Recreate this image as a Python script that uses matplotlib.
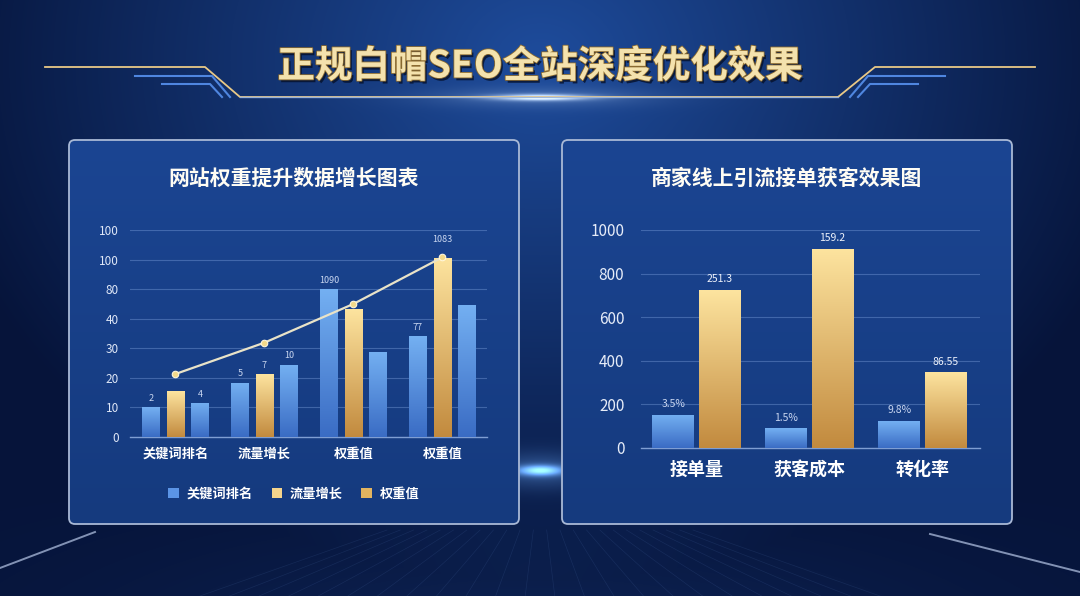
import numpy as np
import matplotlib
matplotlib.use("Agg")
import matplotlib.pyplot as plt
from matplotlib.colors import LinearSegmentedColormap
from matplotlib.patches import FancyBboxPatch, Patch
import matplotlib.patheffects as pe

plt.rcParams['font.family'] = ['Noto Sans CJK SC', 'DejaVu Sans']

# ---------------- data ----------------
main_title = "正规白帽SEO全站深度优化效果"

left_title = "网站权重提升数据增长图表"
left_categories = ["关键词排名", "流量增长", "权重值", "权重值"]
left_ytick_labels = ["0", "10", "20", "30", "40", "80", "100", "100"]
left_blue_a = [10.0, 18.4, 50.0, 34.1]
left_gold = [15.5, 21.2, 43.2, 60.6]
left_blue_b = [11.5, 24.4, 28.9, 44.8]
left_line = [21.3, 31.9, 45.0, 60.8]
left_labels_blue_a = ["2", "5", "1090", "77"]
left_labels_gold = ["", "7", "", "1083"]
left_labels_blue_b = ["4", "10", "", ""]
legend_names = ["关键词排名", "流量增长", "权重值"]

right_title = "商家线上引流接单获客效果图"
right_categories = ["接单量", "获客成本", "转化率"]
right_blue = [152, 89, 123]
right_gold = [725, 915, 346]
right_labels_blue = ["3.5%", "1.5%", "9.8%"]
right_labels_gold = ["251.3", "159.2", "86.55"]

W, H = 1080, 596
fig = plt.figure(figsize=(W / 100, H / 100), dpi=100)

# ---------------- background ----------------
bg = fig.add_axes([0, 0, 1, 1])
bg.set_xlim(0, W)
bg.set_ylim(H, 0)
bg.axis('off')
yy, xx = np.mgrid[0:H, 0:W]
d = np.sqrt(((xx - 540) / 620.0) ** 2 + ((yy - 60) / 520.0) ** 2)
d = np.clip(d, 0, 1)
c_center = np.array([0x1e, 0x4c, 0x9c]) / 255
c_edge = np.array([0x06, 0x14, 0x3a]) / 255
img = c_center[None, None, :] * (1 - d[..., None]) + c_edge[None, None, :] * d[..., None]
floor = np.exp(-((xx - 540) / 420.0) ** 2) * np.clip((yy - 480) / 120.0, 0, 1) * 0.08
img = img + floor[..., None] * np.array([0.3, 0.6, 1.0])
# central glow streak between panels
glow = np.exp(-((xx - 540) / 22.0) ** 2 - ((yy - 470) / 5.0) ** 2) * 0.9 \
    + np.exp(-((xx - 540) / 60.0) ** 2 - ((yy - 470) / 18.0) ** 2) * 0.25
img = img + glow[..., None] * np.array([0.55, 0.8, 1.0])
# glow under title
tglow = np.exp(-((xx - 540) / 45.0) ** 2 - ((yy - 97) / 3.0) ** 2) * 0.8 \
    + np.exp(-((xx - 540) / 110.0) ** 2 - ((yy - 97) / 10.0) ** 2) * 0.15
img = img + tglow[..., None] * np.array([1.0, 0.9, 0.65])
img = np.clip(img, 0, 1)
bg.imshow(img, extent=(0, W, H, 0), aspect='auto', zorder=0)

# floor decoration lines
bg.plot([0, 95], [568, 532], color='#b8c8e8', lw=1.4, alpha=0.7, zorder=1)
bg.plot([1080, 930], [572, 534], color='#b8c8e8', lw=1.4, alpha=0.7, zorder=1)
for xb in np.linspace(200, 880, 24):
    bg.plot([540 + (xb - 540) * 0.45, xb], [530, 596], color='#6f9ae0', lw=0.5, alpha=0.12, zorder=1)

# title decoration
gold = '#e9c987'
bg.plot([45, 205, 240, 838, 875, 1035], [67, 67, 97, 97, 67, 67], color=gold, lw=1.3, zorder=2)
bg.plot([240, 838], [97, 97], color='#8fb3ee', lw=1.0, zorder=2, alpha=0.8)
bg.plot([135, 212, 230], [76, 76, 97], color='#4f86e0', lw=1.5, zorder=2)
bg.plot([162, 210, 222], [84, 84, 97], color='#4f86e0', lw=1.5, zorder=2)
bg.plot([945, 868, 850], [76, 76, 97], color='#4f86e0', lw=1.5, zorder=2)
bg.plot([918, 870, 858], [84, 84, 97], color='#4f86e0', lw=1.5, zorder=2)

bg.text(540, 66, main_title, ha='center', va='center', fontsize=27, fontweight='bold',
        color='#f4e2ad', zorder=3,
        path_effects=[pe.withSimplePatchShadow(offset=(1.5, -2), shadow_rgbFace='#05102a', alpha=0.8),
                      pe.withStroke(linewidth=1.2, foreground='#8a6a30')])

# panels
for (x0, x1, title) in [(69, 519, left_title), (562, 1012, right_title)]:
    yt, yb = 140, 524
    grad = np.linspace(0, 1, 200).reshape(-1, 1)
    pcm = LinearSegmentedColormap.from_list('p', ['#1b4592', '#153a7e'])
    im = bg.imshow(grad, extent=(x0, x1, yb, yt), cmap=pcm, aspect='auto', zorder=2)
    box = FancyBboxPatch((x0, yt), x1 - x0, yb - yt, boxstyle="round,pad=0,rounding_size=6",
                         facecolor='none', edgecolor='#a9b9d6', lw=1.3, zorder=3)
    bg.add_patch(box)
    im.set_clip_path(box)
    bg.text((x0 + x1) / 2, 178, title, ha='center', va='center', fontsize=15, fontweight='bold',
            color='#fffdf4', zorder=4)


def px_axes(x0, x1, ytop, ybot):
    return fig.add_axes([x0 / W, (H - ybot) / H, (x1 - x0) / W, (ybot - ytop) / H])


blue_top, blue_bot = '#74b0f2', '#3a6cc4'
gold_top, gold_bot = '#fde49f', '#c28a3e'


def grad_bars(ax, xs, hs, w, ctop, cbot):
    bars = ax.bar(xs, hs, width=w, color=cbot, zorder=3, lw=0)
    cmap = LinearSegmentedColormap.from_list('g', [cbot, ctop])
    g = np.linspace(0, 1, 256).reshape(-1, 1)
    for b in bars:
        x0 = b.get_x()
        h = b.get_height()
        im = ax.imshow(g, extent=(x0, x0 + b.get_width(), 0, h), origin='lower', cmap=cmap,
                       aspect='auto', zorder=3.5)
        im.set_clip_path(b)
    return bars


def style_axes(ax, grid_color):
    ax.set_facecolor('none')
    for s in ['top', 'right', 'left']:
        ax.spines[s].set_visible(False)
    ax.spines['bottom'].set_color('#7f9ed3')
    ax.spines['bottom'].set_linewidth(1.0)
    ax.yaxis.grid(True, color=grid_color, lw=0.8, alpha=0.35, zorder=0)
    ax.set_axisbelow(True)
    ax.tick_params(length=0)


# ---------------- left chart ----------------
axL = px_axes(130, 487, 230, 437)
style_axes(axL, '#8db0ea')
xL = np.arange(len(left_categories))
bw, off = 0.20, 0.275
grad_bars(axL, xL - off, left_blue_a, bw, blue_top, blue_bot)
grad_bars(axL, xL, left_gold, bw, gold_top, gold_bot)
grad_bars(axL, xL + off, left_blue_b, bw, blue_top, blue_bot)
axL.plot(xL, left_line, color='#e9e3c8', lw=1.6, zorder=5)
axL.scatter(xL, left_line, s=22, color='#f3d98a', edgecolor='#fff6da', lw=0.8, zorder=6)
for xs, hs, labs, dy in [(xL - off, left_blue_a, left_labels_blue_a, 1.5),
                         (xL, left_gold, left_labels_gold, 1.5),
                         (xL + off, left_blue_b, left_labels_blue_b, 1.5)]:
    for x, h, t in zip(xs, hs, labs):
        if t:
            extra = 3.0 if t == "1083" else 0
            axL.text(x, h + dy + extra, t, ha='center', va='bottom', fontsize=6.5, color='#c9d6f0', zorder=7)
axL.set_xlim(-0.51, 3.5)
axL.set_ylim(0, 70)
axL.set_yticks(np.arange(0, 80, 10))
axL.set_yticklabels(left_ytick_labels)
axL.set_xticks(xL)
axL.set_xticklabels(left_categories, fontweight='bold')
axL.tick_params(axis='y', labelsize=8.5, labelcolor='#dfe7f7', pad=8)
axL.tick_params(axis='x', labelsize=9.5, labelcolor='#ffffff', pad=7)

handles = [Patch(facecolor=c, edgecolor='none') for c in ['#5b94e6', '#f5d48c', '#e2b460']]
leg = fig.legend(handles, legend_names, loc='center', bbox_to_anchor=(294 / W, 1 - 494 / H),
                 ncol=3, frameon=False, handlelength=0.8, handleheight=0.8, handletextpad=0.6,
                 columnspacing=1.4, prop={'size': 9.5, 'weight': 'bold'})
for t in leg.get_texts():
    t.set_color('#ffffff')

# ---------------- right chart ----------------
axR = px_axes(641, 980, 230, 447.7)
style_axes(axR, '#8db0ea')
xR = np.arange(len(right_categories))
rw, roff = 0.37, 0.205
grad_bars(axR, xR - roff, right_blue, rw, blue_top, blue_bot)
grad_bars(axR, xR + roff, right_gold, rw, gold_top, gold_bot)
for x, h, t in zip(xR - roff, right_blue, right_labels_blue):
    axR.text(x, h + 25, t, ha='center', va='bottom', fontsize=7.5, color='#c9d6f0', zorder=7)
for x, h, t in zip(xR + roff, right_gold, right_labels_gold):
    axR.text(x, h + 25, t, ha='center', va='bottom', fontsize=7.5, color='#eef2fb', zorder=7)
axR.set_xlim(-0.49, 2.51)
axR.set_ylim(0, 1000)
axR.set_yticks(np.arange(0, 1001, 200))
axR.set_xticks(xR)
axR.set_xticklabels(right_categories, fontweight='bold')
axR.tick_params(axis='y', labelsize=11, labelcolor='#e6ecf8', pad=12)
axR.tick_params(axis='x', labelsize=13, labelcolor='#ffffff', pad=9)

fig.savefig("out.png", dpi=100)
